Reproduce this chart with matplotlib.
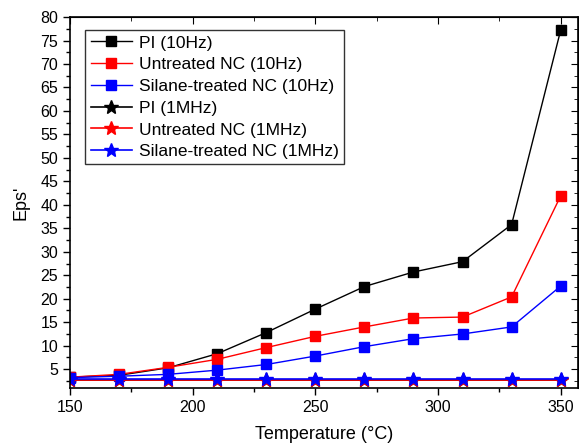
import matplotlib
matplotlib.use('Agg')
import matplotlib.pyplot as plt
from matplotlib.ticker import MultipleLocator

plt.rcParams['font.family'] = ['Liberation Sans', 'DejaVu Sans']

temperature = [150, 170, 190, 210, 230, 250, 270, 290, 310, 330, 350]

# 10 Hz
pi_10hz = [3.3, 3.7, 5.3, 8.3, 12.8, 17.8, 22.6, 25.7, 27.9, 35.8, 77.2]
untreated_10hz = [3.3, 3.9, 5.4, 7.1, 9.6, 12.0, 14.0, 15.9, 16.1, 20.4, 41.9]
silane_10hz = [3.2, 3.5, 3.9, 4.8, 6.0, 7.8, 9.8, 11.5, 12.5, 14.0, 22.7]

# 1 MHz
pi_1mhz = [2.8, 2.8, 2.8, 2.8, 2.8, 2.8, 2.8, 2.8, 2.8, 2.8, 2.8]
untreated_1mhz = [2.7, 2.7, 2.7, 2.7, 2.7, 2.7, 2.7, 2.7, 2.7, 2.7, 2.7]
silane_1mhz = [3.0, 3.0, 3.0, 3.0, 3.0, 3.0, 3.0, 3.0, 3.0, 3.0, 3.0]

fig = plt.figure(figsize=(5.79, 4.48), dpi=100)
ax = fig.add_axes([0.121, 0.134, 0.877, 0.828])

sq = dict(marker='s', markersize=7.5, linewidth=1)
st = dict(marker='*', markersize=10, linewidth=1.2)
ax.plot(temperature, pi_10hz, color='black', label='PI (10Hz)', **sq)
ax.plot(temperature, untreated_10hz, color='red', label='Untreated NC (10Hz)', **sq)
ax.plot(temperature, silane_10hz, color='blue', label='Silane-treated NC (10Hz)', **sq)
ax.plot(temperature, pi_1mhz, color='black', label='PI (1MHz)', **st)
ax.plot(temperature, untreated_1mhz, color='red', label='Untreated NC (1MHz)', **st)
ax.plot(temperature, silane_1mhz, color='blue', label='Silane-treated NC (1MHz)', **st)

ax.set_xlim(150, 357)
ax.set_ylim(1, 80)
ax.xaxis.set_major_locator(MultipleLocator(50))
ax.xaxis.set_minor_locator(MultipleLocator(25))
ax.set_yticks(range(5, 81, 5))
ax.yaxis.set_minor_locator(MultipleLocator(2.5))

ax.tick_params(which='both', direction='out', labelsize=11.5, width=1)
ax.tick_params(which='major', length=5)
ax.tick_params(which='minor', length=3)

# top and right axes: ticks inward, no labels
sx = ax.secondary_xaxis('top')
sx.xaxis.set_major_locator(MultipleLocator(50))
sx.xaxis.set_minor_locator(MultipleLocator(25))
sx.tick_params(which='both', direction='in', labeltop=False)
sx.tick_params(which='major', length=5)
sx.tick_params(which='minor', length=3)
sy = ax.secondary_yaxis('right')
sy.yaxis.set_major_locator(MultipleLocator(5))
sy.yaxis.set_minor_locator(MultipleLocator(2.5))
sy.tick_params(which='both', direction='in', labelright=False)
sy.tick_params(which='major', length=5)
sy.tick_params(which='minor', length=3)

for s in ax.spines.values():
    s.set_linewidth(1.2)

ax.set_xlabel('Temperature (\u00b0C)', fontsize=13, labelpad=8)
ax.set_ylabel("Eps'", fontsize=13, labelpad=8)

leg = ax.legend(loc='upper left', bbox_to_anchor=(0.013, 0.988), fontsize=12.5,
                frameon=True, fancybox=False, edgecolor='black', handlelength=2.4,
                labelspacing=0.38, borderpad=0.3, handletextpad=0.4)
leg.get_frame().set_linewidth(1)

fig.savefig('out.png', dpi=100)
